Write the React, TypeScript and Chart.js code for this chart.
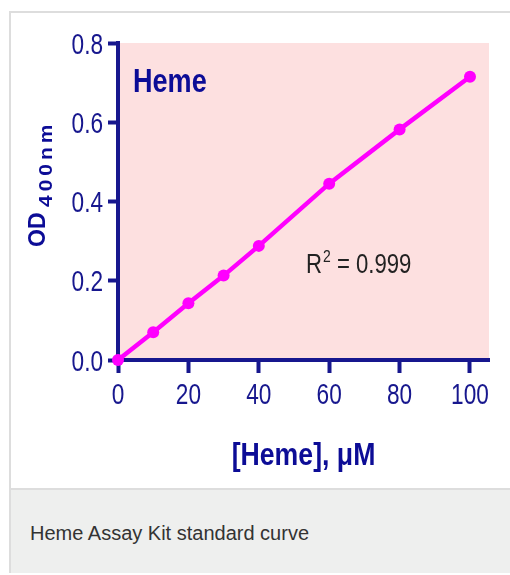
import React, { useEffect, useRef } from 'react';
import { Chart, registerables } from 'chart.js';

Chart.register(...registerables);

// ---- data ----
const concentrations = [0, 10, 20, 30, 40, 60, 80, 100];
const odValues = [0.0, 0.07, 0.143, 0.213, 0.288, 0.445, 0.582, 0.715];
const xTicks = [0, 20, 40, 60, 80, 100];
const yTicks = [0, 0.2, 0.4, 0.6, 0.8];
const xMax = 105.4;
const yMax = 0.8;
const seriesLabel = 'Heme';
const rSquaredText = '0.999';
const xTitle = '[Heme], \u03bcM';
const yTitleMain = 'OD';
const yTitleSub = '400nm';
const caption = 'Heme Assay Kit standard curve';

// ---- styles ----
const NAVY = '#17178e';
const LABEL_BLUE = '#0c0c96';
const MAGENTA = '#ff00ff';
const PINK = '#fde0e0';
const SANS = "'Liberation Sans', Arial, sans-serif";

// draw horizontally condensed text
function narrowText(ctx: any, text: string, x: number, y: number, font: string, squeeze: number, align: 'left' | 'center' | 'right') {
  ctx.save();
  ctx.font = font;
  ctx.textAlign = 'left';
  const w = ctx.measureText(text).width * squeeze;
  let x0 = x;
  if (align === 'center') x0 = x - w / 2;
  else if (align === 'right') x0 = x - w;
  ctx.translate(x0, y);
  ctx.scale(squeeze, 1);
  ctx.fillText(text, 0, 0);
  ctx.restore();
  return w;
}

const bgPlugin = {
  id: 'plotBg',
  beforeDraw(chart: any) {
    const { ctx, chartArea: a } = chart;
    ctx.save();
    ctx.fillStyle = PINK;
    ctx.fillRect(a.left, a.top, a.right - a.left, a.bottom - a.top);
    ctx.restore();
  },
};

const tickLabelPlugin = {
  id: 'tickLabels',
  afterDraw(chart: any) {
    const { ctx, chartArea: a } = chart;
    const xs = chart.scales.x;
    const ys = chart.scales.y;
    ctx.save();
    ctx.fillStyle = NAVY;
    ctx.textBaseline = 'alphabetic';
    const tickFont = `29px ${SANS}`;
    xs.ticks.forEach((t: any) => {
      const px = xs.getPixelForValue(t.value);
      const label = t.label != null ? String(t.label) : String(t.value);
      narrowText(ctx, label, px, a.bottom + 44, tickFont, 0.78, 'center');
    });
    ys.ticks.forEach((t: any) => {
      const py = ys.getPixelForValue(t.value);
      const label = t.label != null ? String(t.label) : Number(t.value).toFixed(1);
      narrowText(ctx, label, a.left - 15, py + 10.5, tickFont, 0.78, 'right');
    });
    ctx.restore();
  },
};

const textPlugin = {
  id: 'texts',
  afterDraw(chart: any) {
    const { ctx, chartArea: a } = chart;
    ctx.save();
    ctx.textBaseline = 'alphabetic';

    // series label inside plot
    ctx.fillStyle = LABEL_BLUE;
    narrowText(ctx, seriesLabel, a.left + 15, a.top + 49, `bold 33px ${SANS}`, 0.82, 'left');

    // R^2 annotation
    ctx.fillStyle = '#222222';
    let x = a.left + 188;
    const y = a.top + 230;
    x += narrowText(ctx, 'R', x, y, `27px ${SANS}`, 0.82, 'left') + 1;
    x += narrowText(ctx, '2', x, y - 11, `17px ${SANS}`, 0.82, 'left');
    narrowText(ctx, ' = ' + rSquaredText, x, y, `27px ${SANS}`, 0.82, 'left');

    // x title
    ctx.fillStyle = LABEL_BLUE;
    narrowText(ctx, xTitle, (a.left + a.right) / 2, a.bottom + 105, `bold 31px ${SANS}`, 0.86, 'center');

    // y title (rotated, with subscript)
    ctx.textAlign = 'left';
    ctx.translate(34, 234);
    ctx.rotate(-Math.PI / 2);
    ctx.font = `bold 23px ${SANS}`;
    ctx.fillText(yTitleMain, 0, 0);
    ctx.translate(40, 7);
    ctx.scale(1, 0.9);
    ctx.font = `bold 21px ${SANS}`;
    let cx = 0;
    for (const ch of yTitleSub) {
      ctx.fillText(ch, cx, 0);
      cx += ctx.measureText(ch).width + 4;
    }
    ctx.restore();
  },
};

export default function App() {
  const ref = useRef<HTMLCanvasElement | null>(null);

  useEffect(() => {
    if (!ref.current) return;
    const chart = new Chart(ref.current, {
      type: 'scatter',
      data: {
        datasets: [
          {
            label: seriesLabel,
            data: concentrations.map((c, i) => ({ x: c, y: odValues[i] })),
            showLine: true,
            borderColor: MAGENTA,
            backgroundColor: MAGENTA,
            borderWidth: 4.5,
            pointRadius: 6,
            pointBorderWidth: 0,
            clip: false as any,
          },
        ],
      },
      options: {
        animation: false,
        responsive: false,
        layout: { padding: { left: 0, right: 21, top: 30, bottom: 0 } },
        plugins: { legend: { display: false }, tooltip: { enabled: false } },
        scales: {
          x: {
            type: 'linear',
            min: 0,
            max: xMax,
            afterBuildTicks: (s: any) => {
              s.ticks = xTicks.map((v) => ({ value: v }));
            },
            afterFit: (s: any) => {
              s.height = 128;
            },
            grid: {
              drawOnChartArea: false,
              drawTicks: true,
              tickLength: 13,
              tickWidth: 4,
              tickColor: NAVY,
            },
            border: { display: true, color: NAVY, width: 4 },
            ticks: {
              display: false,
              callback: (v: any) => String(v),
            },
          },
          y: {
            type: 'linear',
            min: 0,
            max: yMax,
            afterBuildTicks: (s: any) => {
              s.ticks = yTicks.map((v) => ({ value: v }));
            },
            afterFit: (s: any) => {
              s.width = 107;
            },
            grid: {
              drawOnChartArea: false,
              drawTicks: true,
              tickLength: 10,
              tickWidth: 4,
              tickColor: NAVY,
            },
            border: { display: true, color: NAVY, width: 4 },
            ticks: {
              display: false,
              callback: (v: any) => Number(v).toFixed(1),
            },
          },
        },
      },
      plugins: [bgPlugin, tickLabelPlugin, textPlugin],
    });
    return () => chart.destroy();
  }, []);

  return (
    <div
      style={{
        position: 'absolute',
        left: 9,
        top: 11,
        width: 501,
        borderTop: '2px solid #dddddd',
        borderLeft: '2px solid #dddddd',
        boxSizing: 'border-box',
        background: '#ffffff',
      }}
    >
      <canvas ref={ref} width={499} height={475} style={{ display: 'block', width: 499, height: 475 }} />
      <div
        style={{
          borderTop: '2px solid #dddddd',
          background: '#eeefee',
          height: 85,
          boxSizing: 'border-box',
          paddingTop: 33,
          paddingLeft: 19,
          fontFamily: SANS,
          fontSize: 20,
          lineHeight: '20px',
          color: '#333333',
        }}
      >
        {caption}
      </div>
    </div>
  );
}
